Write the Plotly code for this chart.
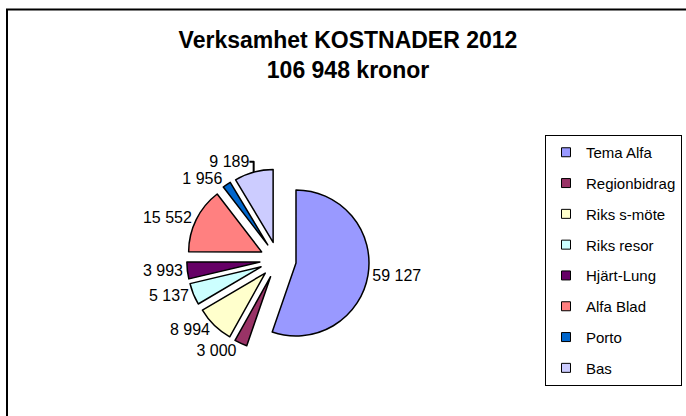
import plotly.graph_objects as go

categories = ["Tema Alfa", "Regionbidrag", "Riks s-möte", "Riks resor",
              "Hjärt-Lung", "Alfa Blad", "Porto", "Bas"]
values = [59127, 3000, 8994, 5137, 3993, 15552, 1956, 9189]
colors = ["#9999FF", "#993366", "#FFFFCC", "#CCFFFF",
          "#660066", "#FF8080", "#0066CC", "#CCCCFF"]
title_line1 = "Verksamhet KOSTNADER 2012"
total = sum(values)
title_line2 = f"{total:,} kronor".replace(",", " ")

W, H = 686, 416
FONT = "Arial, Liberation Sans, sans-serif"

# pie box in pixels
cx, cy, half = 278, 260, 91.25

fig = go.Figure()
fig.add_trace(go.Pie(
    labels=categories, values=values, sort=False, direction="clockwise",
    rotation=0, pull=[0.25] * len(values),
    marker=dict(colors=colors, line=dict(color="black", width=1.5)),
    texttemplate="%{value:,}", textposition="outside",
    outsidetextfont=dict(size=16, color="black", family=FONT),
    domain=dict(x=[(cx - half) / W, (cx + half) / W],
                y=[(H - cy - half) / H, (H - cy + half) / H]),
    showlegend=False, hoverinfo="label+value+percent",
))

for name, col in zip(categories, colors):
    fig.add_trace(go.Scatter(
        x=[None], y=[None], mode="markers", name=name,
        legendgroup=name,
        marker=dict(symbol="square", size=9, color=col,
                    line=dict(color="black", width=1)),
    ))

fig.update_layout(
    width=W, height=H,
    margin=dict(l=0, r=0, t=0, b=0, autoexpand=False),
    paper_bgcolor="white", plot_bgcolor="white",
    separators=", ",
    font=dict(family=FONT, size=16, color="black"),
    title=dict(text=f"<b>{title_line1}<br>{title_line2}</b>",
               x=348 / W, xanchor="center", y=1 - 48 / H, yanchor="top",
               yref="container", font=dict(size=23, family=FONT, color="black")),
    xaxis=dict(visible=False), yaxis=dict(visible=False),
    legend=dict(x=545 / W, xanchor="left", y=1 - 135 / H, yanchor="top",
                bordercolor="black", borderwidth=1, bgcolor="white",
                tracegroupgap=8.3, font=dict(size=15, family=FONT, color="black"),
                itemclick=False, itemdoubleclick=False),
    shapes=[dict(type="rect", xref="paper", yref="paper",
                 x0=7 / W, x1=1.02, y0=-0.05, y1=1 - 9.5 / H,
                 line=dict(color="black", width=2), fillcolor="rgba(0,0,0,0)",
                 layer="below")],
)

fig.write_html("out.html", config={"displayModeBar": False},
               post_script="document.body.style.margin='0';")
